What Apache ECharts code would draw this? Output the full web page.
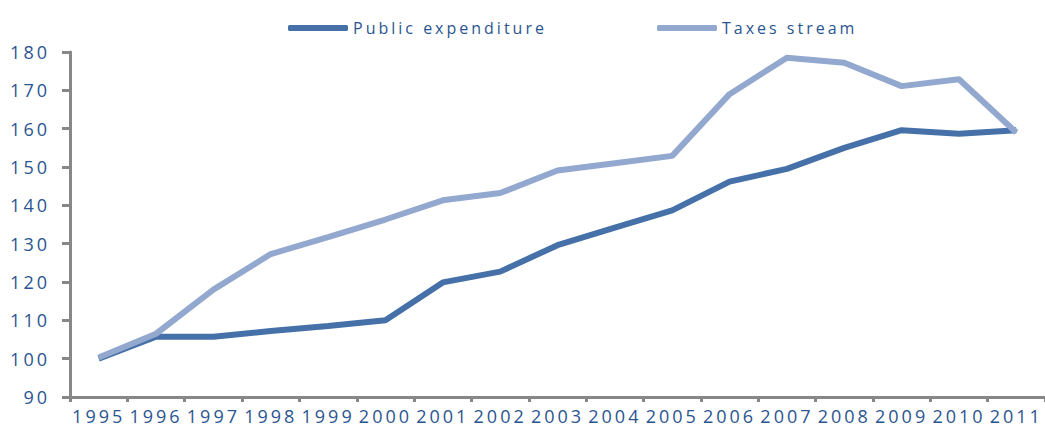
<!DOCTYPE html>
<html>
<head>
<meta charset="utf-8">
<script src="https://cdn.jsdelivr.net/npm/echarts@6/dist/echarts.min.js"></script>
<style>
  html, body { margin: 0; padding: 0; background: #ffffff; }
  #chart { width: 1045px; height: 427px; }
  #chart text { letter-spacing: 3px; }
</style>
</head>
<body>
<div id="chart"></div>
<script>
// Index values, 1995 = 100
const years = ['1995', '1996', '1997', '1998', '1999', '2000', '2001', '2002', '2003',
               '2004', '2005', '2006', '2007', '2008', '2009', '2010', '2011'];
const publicExpenditure = [100, 105.7, 105.7, 107.2, 108.5, 110, 119.9, 122.7, 129.6,
                           134.2, 138.7, 146.2, 149.5, 155, 159.6, 158.7, 159.6];
const taxesStream = [100.3, 106.5, 118, 127.3, 131.7, 136.3, 141.3, 143.2, 149.1,
                     151, 152.9, 169, 178.5, 177.2, 171.1, 172.9, 159];
const seriesNames = ['Public expenditure', 'Taxes stream'];

const textColor = '#2B5590';
const axisGray = '#878787';
const font = 'Open Sans';

const chart = echarts.init(document.getElementById('chart'), null, { renderer: 'svg' });

const legendBase = {
  top: 15,
  icon: 'roundRect',
  itemWidth: 60,
  itemHeight: 6,
  itemGap: 5,
  textStyle: { color: textColor, fontSize: 16, fontFamily: font }
};

chart.setOption({
  animation: false,
  backgroundColor: '#ffffff',
  legend: [
    Object.assign({ data: [seriesNames[0]], left: 283 }, legendBase),
    Object.assign({ data: [seriesNames[1]], left: 652 }, legendBase)
  ],
  grid: { left: 70, right: -4, top: 52, bottom: 30 },
  xAxis: {
    type: 'category',
    data: years,
    boundaryGap: true,
    axisLine: { lineStyle: { color: axisGray, width: 3 } },
    axisTick: { show: true, length: 5, lineStyle: { color: axisGray, width: 3 } },
    axisLabel: { color: textColor, fontSize: 18, fontFamily: font, margin: 10, interval: 0 }
  },
  yAxis: {
    type: 'value',
    min: 90,
    max: 180,
    interval: 10,
    splitLine: { show: false },
    axisLine: { show: true, lineStyle: { color: axisGray, width: 3 } },
    axisTick: { show: true, length: 8, lineStyle: { color: axisGray, width: 3 } },
    axisLabel: { color: textColor, fontSize: 18, fontFamily: font, margin: 20 }
  },
  series: [
    {
      name: seriesNames[0],
      type: 'line',
      data: publicExpenditure,
      showSymbol: false,
      symbol: 'none',
      z: 2,
      itemStyle: { color: '#4571A8' },
      lineStyle: { color: '#4571A8', width: 6, cap: 'butt' }
    },
    {
      name: seriesNames[1],
      type: 'line',
      data: taxesStream,
      showSymbol: false,
      symbol: 'none',
      z: 3,
      itemStyle: { color: '#93A8CF' },
      lineStyle: { color: '#93A8CF', width: 6, cap: 'butt' }
    }
  ]
});
</script>
</body>
</html>
